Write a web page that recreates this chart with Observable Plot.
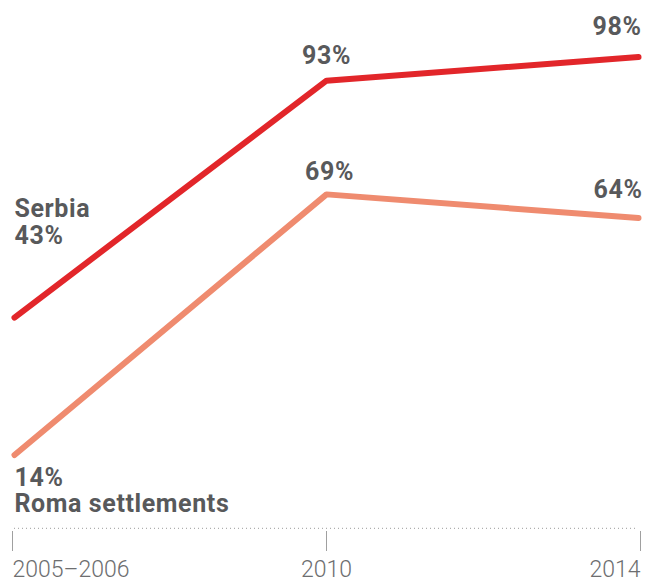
<!DOCTYPE html>
<html><head><meta charset="utf-8">
<script src="https://cdn.jsdelivr.net/npm/d3@7"></script>
<script src="https://cdn.jsdelivr.net/npm/@observablehq/plot@0.6"></script>
<style>
body{margin:0;background:#fff}
svg g[font-weight="700"] text{letter-spacing:0.6px}
</style>
</head><body><div id="chart"></div>
<script>
const years = ["2005–2006", "2010", "2014"];
const serbia = [43, 93, 98];
const roma = [14, 69, 64];
const seriesNames = ["Serbia", "Roma settlements"];
const colors = ["#e2262a", "#ef8b6f"];

const data = [
  ...years.map((y, i) => ({series: seriesNames[0], year: y, value: serbia[i]})),
  ...years.map((y, i) => ({series: seriesNames[1], year: y, value: roma[i]}))
];
const pick = (s, y) => data.filter(d => d.series === s && d.year === y);

const labelStyle = {fontSize: 25, fontWeight: 700, fill: "#58595b", fontFamily: "Roboto"};
const valueLabel = (s, y, opts) => Plot.text(pick(s, y), {
  x: "year", y: "value", text: d => d.value + "%", lineAnchor: "bottom", ...labelStyle, ...opts
});
const tickStyle = {tickSize: 20, tickPadding: 9, fontSize: 23, fontWeight: 300, fill: "#6d6e70", stroke: "#a0a0a0", fontFamily: "Roboto", label: null};

const chart = Plot.plot({
  width: 649,
  height: 581,
  marginLeft: 14,
  marginRight: 11,
  marginTop: 0,
  marginBottom: 50,
  style: {fontFamily: "Roboto", background: "#fff", overflow: "visible"},
  x: {type: "point", domain: years, range: [14, 638], padding: 0},
  y: {domain: [0, 100], range: [520.8, 47], axis: null},
  color: {domain: seriesNames, range: colors},
  marks: [
    Plot.ruleY([0], {dy: 7, stroke: "#9a9a9a", strokeDasharray: "1,3", strokeWidth: 1}),
    Plot.axisX([years[0]], {...tickStyle, textAnchor: "start", dx: -2}),
    Plot.axisX([years[1]], {...tickStyle, textAnchor: "middle"}),
    Plot.axisX([years[2]], {...tickStyle, textAnchor: "end", dx: 2}),
    Plot.line(data, {x: "year", y: "value", z: "series", stroke: "series", strokeWidth: 6, strokeLinecap: "round", strokeLinejoin: "round"}),
    valueLabel(seriesNames[0], years[1], {textAnchor: "middle", dy: -17}),
    valueLabel(seriesNames[0], years[2], {textAnchor: "end", dx: 3, dy: -22}),
    valueLabel(seriesNames[1], years[1], {textAnchor: "middle", dx: 3, dy: -14}),
    valueLabel(seriesNames[1], years[2], {textAnchor: "end", dx: 4, dy: -20}),
    Plot.text(pick(seriesNames[0], years[0]), {
      x: "year", y: "value", text: d => `${d.series}\n${d.value}%`,
      textAnchor: "start", lineAnchor: "bottom", lineHeight: 1.08, dy: -74, ...labelStyle
    }),
    Plot.text(pick(seriesNames[1], years[0]), {
      x: "year", y: "value", text: d => `${d.value}%\n${d.series}`,
      textAnchor: "start", lineAnchor: "top", lineHeight: 1.04, dy: 12.5, ...labelStyle
    })
  ]
});
document.getElementById("chart").appendChild(chart);
</script>
</body></html>
